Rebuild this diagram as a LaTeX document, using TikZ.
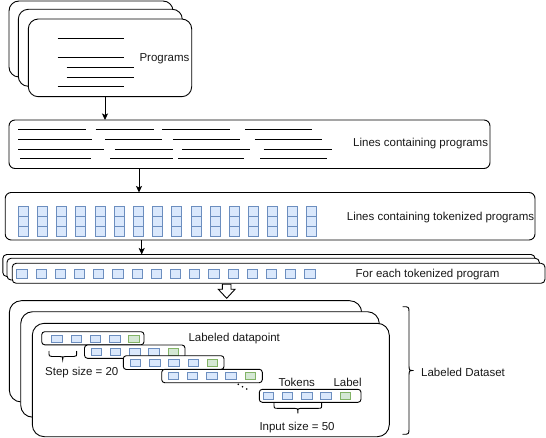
\documentclass[tikz,border=0pt]{standalone}
\usepackage{fontspec}
\setmainfont{Liberation Sans}
\usetikzlibrary{arrows.meta}
\definecolor{bfill}{HTML}{DAE8FC}
\definecolor{bdraw}{HTML}{6C8EBF}
\definecolor{gfill}{HTML}{D5E8D4}
\definecolor{gdraw}{HTML}{82B366}
\tikzset{
  panel/.style={draw=black, fill=white, line width=0.9pt, inner sep=0pt, outer sep=0pt, anchor=north west},
  tok/.style={draw=bdraw, fill=bfill, line width=0.9pt},
  lab/.style={draw=gdraw, fill=gfill, line width=0.9pt},
  txt/.style={anchor=base west, inner sep=0pt, font=\fontsize{11.5}{13}\selectfont, text=black!90},
  arr/.style={-{Stealth[length=6.5pt,width=6pt,inset=1.5pt]}, line width=0.9pt},
  brace/.style={line width=0.9pt},
  codeline/.style={line width=0.9pt},
}
\begin{document}
\begin{tikzpicture}[x=1pt,y=-1pt]
\useasboundingbox (0,0) rectangle (546,438);

% ---- Programs stack
\node[panel, rounded corners=10pt, minimum width=164pt, minimum height=76pt] (progA) at (9,1) {};
\node[panel, rounded corners=10pt, minimum width=164pt, minimum height=77pt] (progB) at (18.3,9.3) {};
\node[panel, rounded corners=10pt, minimum width=163.4pt, minimum height=77.7pt] (progC) at (28.3,19) {};
\draw[codeline] (57.7,38.3) -- (124.3,38.3);
\draw[codeline] (57.7,57.3) -- (124.3,57.3);
\draw[codeline] (66.7,67.7) -- (134.3,67.7);
\draw[codeline] (66.7,77.3) -- (134.3,77.3);
\draw[codeline] (57.7,86) -- (124.3,86);
\node[txt] (tprog) at (139.3,62) {Programs};

% ---- Lines containing programs
\node[panel, rounded corners=6pt, minimum width=481pt, minimum height=48.5pt] (box2) at (9,120) {};
\foreach \y/\a/\b/\c/\d/\e/\f/\g/\h in {
  129/18.3/86/95.5/153.6/162.3/230.4/245/312.4,
  139.3/18.3/92/105.4/162.3/172.8/240.2/254.8/321.9,
  149.3/18.3/104.3/114.8/172.8/182.2/250.3/263.6/331.6,
  158.3/20/91/110/172.8/178/244.4/260/327}{
  \draw[codeline] (\a,\y) -- (\b,\y);
  \draw[codeline] (\c,\y) -- (\d,\y);
  \draw[codeline] (\e,\y) -- (\f,\y);
  \draw[codeline] (\g,\y) -- (\h,\y);
}
\node[txt] (tlines) at (353,146.3) {Lines containing programs};

% ---- Lines containing tokenized programs
\node[panel, rounded corners=6pt, minimum width=529.8pt, minimum height=47.5pt] (box3) at (5.2,192.5) {};
\foreach \i in {0,...,15}{
  \foreach \r in {0,1,2}{
    \draw[tok] ({18.3+19.2*\i},{206+10*\r}) rectangle +(10,10);
  }
}
\node[txt] (ttok) at (346.7,221) {Lines containing tokenized programs};

% ---- For each tokenized program
\node[panel, rounded corners=4pt, minimum width=532.2pt, minimum height=22pt] (box4a) at (2.8,254.5) {};
\node[panel, rounded corners=4pt, minimum width=532.3pt, minimum height=21.7pt] (box4b) at (7,258.3) {};
\node[panel, rounded corners=4pt, minimum width=532.8pt, minimum height=20pt] (box4c) at (12.2,263.3) {};
\foreach \i in {0,...,15}{
  \draw[tok] ({16.8+19.2*\i},269) rectangle +(10.3,9.3);
}
\node[txt] (teach) at (355.4,277.5) {For each tokenized program};

% ---- Labeled dataset stack
\node[panel, rounded corners=12pt, minimum width=352.4pt, minimum height=101.3pt] (dsA) at (9.3,300.7) {};
\node[panel, rounded corners=12pt, minimum width=358.6pt, minimum height=105.5pt] (dsB) at (20.7,311.7) {};
\node[panel, rounded corners=12pt, minimum width=357pt, minimum height=113.4pt] (dsC) at (32.3,323.3) {};

\foreach \x/\y/\w/\h/\sx/\sy [count=\n] in {
  41.7/331.7/102.3/13.1/51.7/335.5,
  84.5/345/100.5/13.3/91/348,
  123.3/355.7/100.7/13.8/130.3/359.3,
  161.7/369.3/100.6/13.4/168/372.3,
  259.3/389.3/101.7/13/263/392.5}{
  \node[panel, rounded corners=3pt, minimum width=\w pt, minimum height=\h pt] (row\n) at (\x,\y) {};
  \foreach \i in {0,...,3}{
    \draw[tok] ({\sx+19.25*\i},\sy) rectangle +(10.5,7.3);
  }
  \draw[lab] ({\sx+77},\sy) rectangle +(10.5,7.3);
}
\fill (238.3,384.3) circle (0.9);
\fill (242.5,386.7) circle (0.9);
\fill (246.7,389) circle (0.9);

\node[txt] (tdp) at (188.3,341.7) {Labeled datapoint};
\node[txt] (tstep) at (45,375.5) {Step size = 20};
\node[txt] (ttokens) at (278.3,386.5) {Tokens};
\node[txt] (tlabel) at (333.3,386.5) {Label};
\node[txt] (tinput) at (259.3,430.5) {Input size = 50};
\node[txt] (tds) at (421,376) {Labeled Dataset};

% braces
\draw[brace] (49,351) .. controls (49,356.5) .. (52,356.5) -- (59.7,356.5)
  .. controls (62.7,356.5) .. (62.7,359.5) .. controls (62.7,356.5) .. (65.7,356.5)
  -- (73.7,356.5) .. controls (76.7,356.5) .. (76.7,351);
\draw[brace] (274,402.7) .. controls (274,408.3) .. (277,408.3) -- (294.8,408.3)
  .. controls (297.8,408.3) .. (297.8,413.3) .. controls (297.8,408.3) .. (300.8,408.3)
  -- (318.7,408.3) .. controls (321.7,408.3) .. (321.7,402.7);
\draw[brace] (402.7,306.7) .. controls (409,306.7) .. (409,313) -- (409,364.5)
  .. controls (409,370.5) .. (413.5,370.5) .. controls (409,370.5) .. (409,376.5)
  -- (409,428) .. controls (409,434.3) .. (402.7,434.3);

% ---- connectors
\coordinate (xA) at (105,0);
\coordinate (xB) at (139,0);
\coordinate (xC) at (141.7,0);
\draw[arr] (progC.south -| xA) -- (box2.north -| xA);
\draw[arr] (box2.south -| xB) -- (box3.north -| xB);
\draw[arr] (box3.south -| xC) -- (box4a.north -| xC);
\draw[line width=0.9pt, fill=white, line join=miter]
  (222.3,284.3) -- (231,284.3) -- (231,289.3) -- (235,289.3) -- (226.7,298.3)
  -- (218.3,289.3) -- (222.3,289.3) -- cycle;
\end{tikzpicture}
\end{document}
